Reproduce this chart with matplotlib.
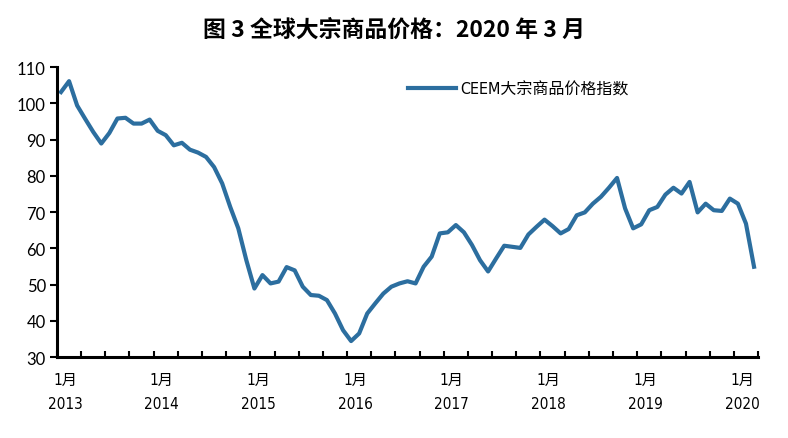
import matplotlib
matplotlib.use("Agg")
import matplotlib.pyplot as plt

# CEEM commodity price index, monthly, Jan 2013 - Mar 2020
ceem_index = [
    103.1, 106.1, 99.4, 95.7, 92.1, 88.9, 91.8, 95.8, 96.0, 94.4, 94.4, 95.5,
    92.4, 91.2, 88.4, 89.1, 87.2, 86.4, 85.2, 82.4, 77.9, 71.4, 65.5, 56.7,
    48.9, 52.6, 50.3, 50.8, 54.8, 53.9, 49.4, 47.1, 46.9, 45.7, 42.0, 37.4,
    34.4, 36.5, 42.0, 44.8, 47.5, 49.4, 50.3, 50.9, 50.3, 54.9, 57.7, 64.1,
    64.4, 66.4, 64.4, 60.9, 56.7, 53.6, 57.2, 60.7, 60.4, 60.1, 63.8, 65.9,
    67.9, 66.1, 64.1, 65.3, 69.1, 69.9, 72.3, 74.2, 76.7, 79.4, 71.0, 65.5,
    66.6, 70.5, 71.4, 74.8, 76.7, 75.1, 78.3, 69.9, 72.3, 70.5, 70.3, 73.7,
    72.3, 66.8, 54.9,
]
years = ["2013", "2014", "2015", "2016", "2017", "2018", "2019", "2020"]
yticks = [30, 40, 50, 60, 70, 80, 90, 100, 110]
series_name = "CEEM大宗商品价格指数"
title = "图 3 全球大宗商品价格：2020 年 3 月"

plt.rcParams["font.family"] = ["DejaVu Sans", "Noto Sans CJK SC"]
plt.rcParams["font.stretch"] = "condensed"

fig = plt.figure(figsize=(7.88, 4.39), dpi=100)
ax = fig.add_axes([0.0723, 0.1845, 0.8897, 0.6605])

x = list(range(len(ceem_index)))
ax.plot(x, ceem_index, color="#2c6e9f", linewidth=3.0, label=series_name,
        solid_joinstyle="round")

ax.set_xlim(-0.5, len(ceem_index) - 0.5)
ax.set_ylim(30, 110)
ax.set_yticks(yticks)
ax.set_yticklabels([str(v) for v in yticks], fontsize=12, family=["Lato", "DejaVu Sans"],
                   fontstretch="normal")

ax.set_xticks([k - 0.5 for k in range(0, len(ceem_index) + 1, 3)])
ax.set_xticklabels([])
ax.tick_params(axis="x", direction="in", length=4, width=1.5, color="black")
ax.tick_params(axis="y", direction="out", length=5, width=1.5, color="black", pad=3)

for i, yr in enumerate(years):
    ax.text(i * 12 + 0.5, -0.05, f"1月\n{yr}", transform=ax.get_xaxis_transform(),
            ha="center", va="top", fontsize=11, linespacing=1.75)

for side in ["top", "right"]:
    ax.spines[side].set_visible(False)
for side in ["left", "bottom"]:
    ax.spines[side].set_linewidth(2.2)
    ax.spines[side].set_color("black")

leg = ax.legend(loc="upper left", bbox_to_anchor=(0.48, 1.0), frameon=False,
                fontsize=11.5, handlelength=3.0, handletextpad=0.3)

fig.text(0.5, 0.93, title, ha="center", va="center", fontsize=16.5, fontweight="bold",
         family=["Noto Sans CJK SC", "DejaVu Sans"], fontstretch="normal")

fig.savefig("out.png", dpi=100)
plt.close(fig)
